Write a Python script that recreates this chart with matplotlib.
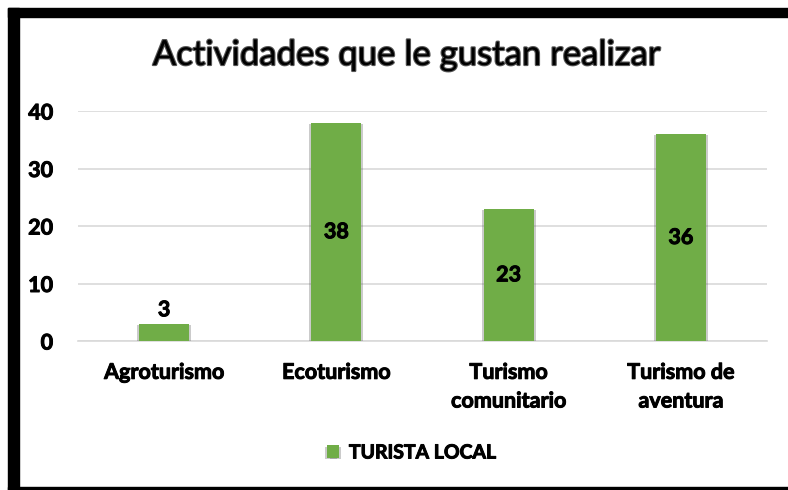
import matplotlib
matplotlib.use("Agg")
from matplotlib import pyplot as plt
from matplotlib import patheffects as pe
from matplotlib.patches import Rectangle

categorias = ["Agroturismo", "Ecoturismo", "Turismo\ncomunitario", "Turismo de\naventura"]
valores = [3, 38, 23, 36]
serie = "TURISTA LOCAL"
ticks_y = [0, 10, 20, 30, 40]

verde = "#70ad47"
plt.rcParams["font.family"] = ["Lato", "DejaVu Sans"]
plt.rcParams["font.weight"] = "bold"

# trazo fino para engrosar el texto como en el original
grueso = [pe.Stroke(linewidth=0.7, foreground="black"), pe.Normal()]

fig = plt.figure(figsize=(7.88, 4.90), dpi=100)
fig.patch.set_facecolor("white")
W, H = 788, 490

# marco negro (izquierda, arriba, abajo)
fig.patches.append(Rectangle((8 / W, 0), 11 / W, 482 / H, transform=fig.transFigure,
                             color="black", zorder=0))
fig.patches.append(Rectangle((8 / W, 1 - 17 / H), 1 - 8 / W, 9 / H, transform=fig.transFigure,
                             color="black", zorder=0))
fig.patches.append(Rectangle((8 / W, 0), 1 - 8 / W, 3 / H, transform=fig.transFigure,
                             color="black", zorder=0))

ax = fig.add_axes([78 / W, 149 / H, 689 / W, 230 / H])
x = list(range(len(categorias)))
bars = ax.bar(x, valores, width=0.29, color=verde, zorder=3)
for b in bars:
    b.set_path_effects([pe.SimplePatchShadow(offset=(-1.5, -1), shadow_rgbFace="#555555", alpha=0.3),
                        pe.SimplePatchShadow(offset=(1.5, -1), shadow_rgbFace="#555555", alpha=0.3),
                        pe.Normal()])

for xi, v in zip(x, valores):
    if v < 5:
        ax.text(xi, v + 0.6, str(v), ha="center", va="bottom", fontsize=15.5,
                fontweight="bold", color="black", zorder=4, path_effects=grueso)
    else:
        ax.text(xi, v / 2, str(v), ha="center", va="center", fontsize=15.5,
                fontweight="bold", color="black", zorder=4, path_effects=grueso)

ax.set_xlim(-0.5, len(categorias) - 0.5)
ax.set_ylim(0, 40)
ax.set_yticks(ticks_y)
ax.set_xticks(x)
ax.set_xticklabels(categorias, fontsize=15.5, fontweight="bold", linespacing=1.45)
ax.tick_params(axis="y", length=0, pad=18, labelsize=15.5)
ax.tick_params(axis="x", length=0, pad=15)
for lbl in ax.get_yticklabels() + ax.get_xticklabels():
    lbl.set_fontweight("bold")
    lbl.set_path_effects(grueso)
ax.grid(axis="y", color="#d9d9d9", linewidth=1.2, zorder=0)
for s in ["top", "right", "left"]:
    ax.spines[s].set_visible(False)
ax.spines["bottom"].set_color("#d9d9d9")
ax.spines["bottom"].set_linewidth(1.2)

fig.text(407 / W, 1 - 55 / H, "Actividades que le gustan realizar", ha="center", va="center",
         fontsize=25, fontweight="normal", color="black",
         path_effects=[pe.Stroke(linewidth=1.6, foreground="#555555"), pe.Normal()])

leg = fig.legend([bars], [serie], loc="center", bbox_to_anchor=(412 / W, 1 - 453 / H),
                 frameon=False, handlelength=0.6, handleheight=0.6,
                 handletextpad=0.5, prop={"weight": "bold", "size": 14})
for t in leg.get_texts():
    t.set_path_effects(grueso)

fig.savefig("out.png", dpi=100, facecolor="white")
